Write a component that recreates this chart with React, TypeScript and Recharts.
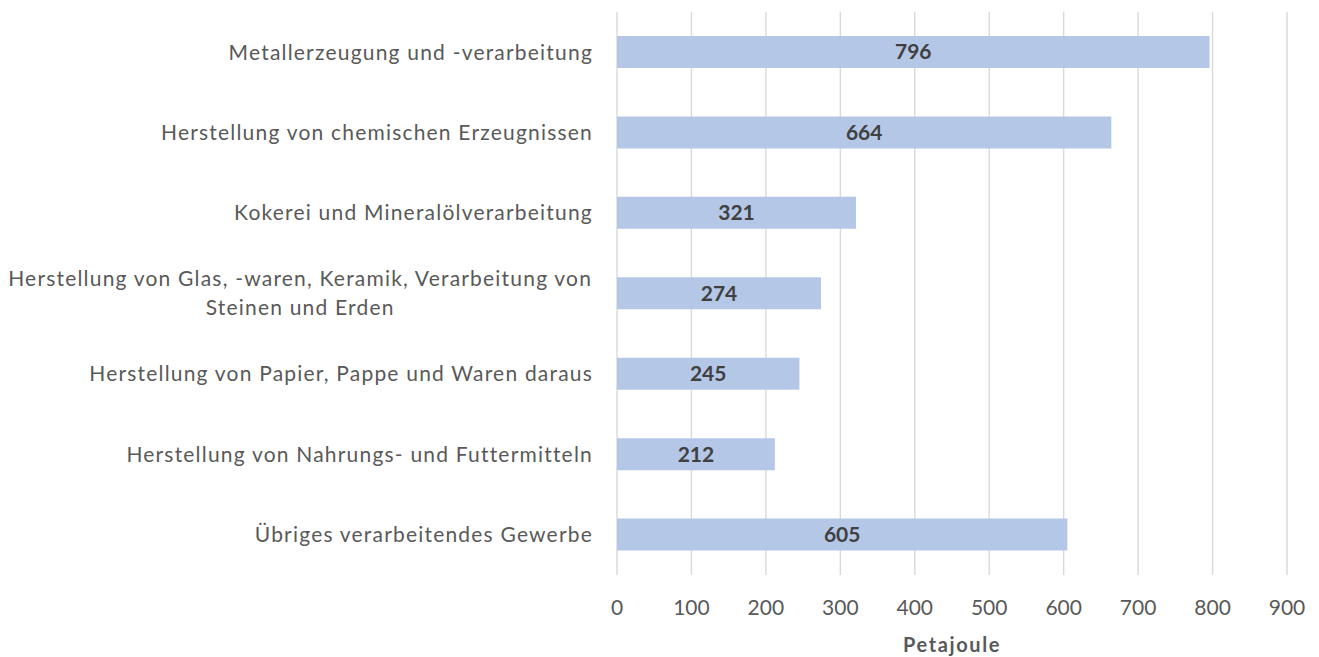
import { BarChart, Bar, XAxis, YAxis, CartesianGrid, LabelList } from "recharts";

const categories: string[] = [
  "Metallerzeugung und -verarbeitung",
  "Herstellung von chemischen Erzeugnissen",
  "Kokerei und Mineralölverarbeitung",
  "Herstellung von Glas, -waren, Keramik, Verarbeitung von Steinen und Erden",
  "Herstellung von Papier, Pappe und Waren daraus",
  "Herstellung von Nahrungs- und Futtermitteln",
  "Übriges verarbeitendes Gewerbe",
];

const values: number[] = [796, 664, 321, 274, 245, 212, 605];

const xTicks: number[] = [0, 100, 200, 300, 400, 500, 600, 700, 800, 900];

const data = categories.map((name, i) => ({ name, value: values[i] }));

const FONT = "Lato, 'Open Sans', sans-serif";
const TICK_SIZE = 21;
const CAT_SPACING = 1.2;
const TEXT_GREY = "#595959";

let ctx: CanvasRenderingContext2D | null = null;
function measure(text: string): number {
  if (!ctx) ctx = document.createElement("canvas").getContext("2d");
  if (!ctx) return text.length * TICK_SIZE * 0.5;
  ctx.font = `${TICK_SIZE}px Lato`;
  return ctx.measureText(text).width + text.length * CAT_SPACING;
}

function wrap(text: string, maxWidth: number): string[] {
  const words = text.split(" ");
  const lines: string[] = [];
  let cur = "";
  for (const w of words) {
    const next = cur ? cur + " " + w : w;
    if (cur && measure(next) > maxWidth) {
      lines.push(cur);
      cur = w;
    } else {
      cur = next;
    }
  }
  if (cur) lines.push(cur);
  return lines;
}

function CategoryTick({ x, y, payload }: any) {
  const lines = wrap(payload.value, 600);
  const lineHeight = 29;
  const right = x - 24;
  const blockWidth = Math.max(...lines.map(measure));
  const top = y - ((lines.length - 1) * lineHeight) / 2;
  const multi = lines.length > 1;
  return (
    <g>
      {lines.map((line, i) => (
        <text
          key={i}
          x={multi ? right - blockWidth / 2 : right}
          y={top + i * lineHeight}
          dy="0.35em"
          textAnchor={multi ? "middle" : "end"}
          fontFamily={FONT}
          fontSize={TICK_SIZE}
          letterSpacing={CAT_SPACING}
          fill={TEXT_GREY}
        >
          {line}
        </text>
      ))}
    </g>
  );
}

function ValueTick({ x, y, payload }: any) {
  return (
    <text
      x={x}
      y={y + 33}
      dy="0.35em"
      textAnchor="middle"
      fontFamily={FONT}
      fontSize={TICK_SIZE}
      fill={TEXT_GREY}
    >
      {payload.value}
    </text>
  );
}

export default function App() {
  return (
    <div style={{ position: "absolute", left: 0, top: 0, background: "#fff" }}>
      <BarChart
        width={1319}
        height={657}
        data={data}
        layout="vertical"
        margin={{ top: 12, right: 32, bottom: 0, left: 0 }}
      >
        <CartesianGrid horizontal={false} stroke="#D9D9D9" strokeWidth={1.4} />
        <XAxis
          type="number"
          domain={[0, 900]}
          ticks={xTicks}
          interval={0}
          axisLine={false}
          tickLine={false}
          tickSize={0}
          tickMargin={0}
          height={82}
          tick={<ValueTick />}
          label={{
            value: "Petajoule",
            position: "insideBottom",
            offset: 5,
            fill: TEXT_GREY,
            fontFamily: FONT,
            fontSize: 20,
            fontWeight: "bold",
            letterSpacing: 1.6,
          }}
        />
        <YAxis
          type="category"
          dataKey="name"
          width={617}
          axisLine={false}
          tickLine={false}
          tickSize={0}
          tickMargin={0}
          interval={0}
          tick={<CategoryTick />}
        />
        <Bar dataKey="value" fill="#B4C7E7" barSize={32} isAnimationActive={false}>
          <LabelList
            dataKey="value"
            position="center"
            fill="#404040"
            fontFamily={FONT}
            fontSize={21}
            fontWeight="bold"
          />
        </Bar>
      </BarChart>
    </div>
  );
}
